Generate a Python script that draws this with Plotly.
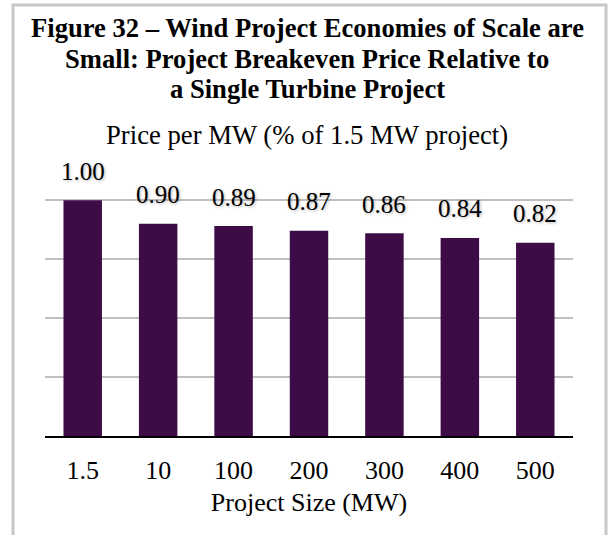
import plotly.graph_objects as go

project_size = ["1.5", "10", "100", "200", "300", "400", "500"]
price_ratio = [1.00, 0.90, 0.89, 0.87, 0.86, 0.84, 0.82]

title_lines = [
    "Figure 32 – Wind Project Economies of Scale are",
    "Small: Project Breakeven Price Relative to",
    "a Single Turbine Project",
]
subtitle = "Price per MW (% of 1.5 MW project)"
x_title = "Project Size (MW)"

W, H = 613, 535
L, R, T, B = 45, 40, 199, 99
FONT = "Liberation Serif, Times New Roman, serif"


# pixel -> paper helpers for the text placed outside the plot area
def paper_y(y):
    return (H - B - y) / (H - T - B)


def paper_x(x):
    return (x - L) / (W - L - R)


fig = go.Figure(
    go.Bar(
        x=project_size,
        y=price_ratio,
        marker_color="#3d0c46",
        marker_line_width=0,
        hoverinfo="skip",
    )
)

# value labels above the bars (x given as category index)
for i, val in enumerate(price_ratio):
    fig.add_annotation(
        x=i, y=val, text=f"{val:.2f}", showarrow=False,
        yanchor="middle", yshift=29,
        font=dict(family=FONT, size=25, color="black",
                  shadow="1px 1px 3px rgba(0,0,0,0.3)"),
    )

title_y = [28, 59, 89]
for line, y in zip(title_lines, title_y):
    fig.add_annotation(
        xref="paper", yref="paper", x=paper_x(307), y=paper_y(y),
        text=f"<b>{line}</b>", showarrow=False, yanchor="middle",
        font=dict(family=FONT, size=26.6, color="black"),
    )

fig.add_annotation(
    xref="paper", yref="paper", x=paper_x(307), y=paper_y(135),
    text=subtitle, showarrow=False, yanchor="middle",
    font=dict(family=FONT, size=26.7, color="black"),
)

# light grey frame around the whole chart
fig.add_shape(
    type="rect", xref="paper", yref="paper",
    x0=paper_x(13), x1=paper_x(606), y0=paper_y(560), y1=paper_y(5),
    line=dict(color="#c8c8c8", width=3), layer="below",
)

fig.update_layout(
    width=W, height=H,
    margin=dict(l=L, r=R, t=T, b=B),
    paper_bgcolor="white", plot_bgcolor="white",
    bargap=0.49,
    showlegend=False,
    font=dict(family=FONT, size=26, color="black"),
)
fig.update_xaxes(
    type="category", range=[-0.5, len(project_size) - 0.5],
    showline=True, linecolor="black", linewidth=2,
    ticks="", ticklabelstandoff=10,
    tickfont=dict(family=FONT, size=26, color="black"),
    title=dict(text=x_title, standoff=9,
               font=dict(family=FONT, size=26, color="black")),
    showgrid=False,
)
fig.update_yaxes(
    range=[0, 1.005], tickvals=[0.25, 0.5, 0.75, 1.0],
    showgrid=True, gridcolor="#bfbfbf", gridwidth=2,
    zeroline=False, showticklabels=False, ticks="",
)

# drop the default page margin so the chart sits at the window's corner
fig.write_html(
    "out.html",
    config={"displayModeBar": False},
    post_script="document.body.style.margin='0';",
)
